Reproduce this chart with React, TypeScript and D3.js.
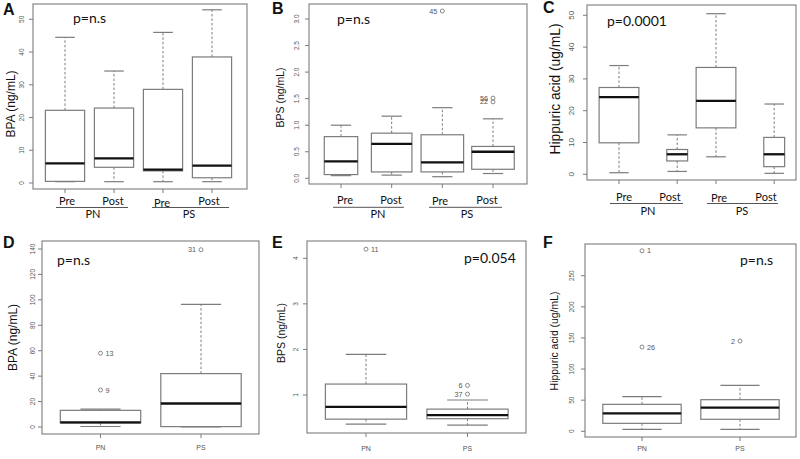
import React, { useEffect } from 'react';
import * as d3 from 'd3';

// ---------------- Data ----------------
const topGroups = ['Pre', 'Post', 'Pre', 'Post'];
const topCohorts = ['PN', 'PS'];
const bottomGroups = ['PN', 'PS'];

// A: BPA (ng/mL) pre/post
const aMin = [0.4, 0.4, 0.4, 0.4];
const aQ1 = [0.5, 4.8, 3.7, 1.6];
const aMed = [6.0, 7.5, 4.1, 5.3];
const aQ3 = [22.2, 22.9, 28.6, 38.5];
const aMax = [44.5, 34.2, 46.0, 52.9];
const aTicks = [0, 10, 20, 30, 40, 50];

// B: BPS (ng/mL) pre/post
const bMin = [0.05, 0.06, 0.03, 0.09];
const bQ1 = [0.07, 0.12, 0.12, 0.17];
const bMed = [0.32, 0.65, 0.3, 0.5];
const bQ3 = [0.785, 0.85, 0.82, 0.6];
const bMax = [1.0, 1.17, 1.33, 1.12];
const bTicks = [0, 0.5, 1, 1.5, 2, 2.5, 3];
const bOutGroup = [2, 3, 3];
const bOutValue = [3.15, 1.51, 1.44];
const bOutLabel = ['45', '56', '22'];

// C: Hippuric acid (ug/mL) pre/post
const cMin = [0.5, 0.9, 5.5, 0.3];
const cQ1 = [9.9, 4.2, 14.6, 2.4];
const cMed = [24.3, 6.3, 23.1, 6.3];
const cQ3 = [27.3, 7.8, 33.6, 11.6];
const cMax = [34.2, 12.4, 50.5, 22.1];
const cTicks = [0, 10, 20, 30, 40, 50];

// D: BPA (ng/mL) PN vs PS
const dMin = [0.4, 0];
const dQ1 = [3.2, 0.3];
const dMed = [3.6, 18.5];
const dQ3 = [13.1, 42.0];
const dMax = [14.0, 96.5];
const dTicks = [0, 20, 40, 60, 80, 100, 120, 140];
const dOutGroup = [0, 0, 1];
const dOutValue = [58.0, 29.1, 139.4];
const dOutLabel = ['13', '9', '31'];

// E: BPS (ng/mL) PN vs PS
const eMin = [0.36, 0.34];
const eQ1 = [0.47, 0.48];
const eMed = [0.74, 0.56];
const eQ3 = [1.24, 0.69];
const eMax = [1.89, 0.89];
const eTicks = [1, 2, 3, 4];
const eOutGroup = [0, 1, 1];
const eOutValue = [4.2, 1.21, 1.02];
const eOutLabel = ['11', '6', '37'];

// F: Hippuric acid (ug/mL) PN vs PS
const fMin = [3.2, 3.2];
const fQ1 = [12.8, 19.3];
const fMed = [28.9, 37.9];
const fQ3 = [43.3, 50.8];
const fMax = [55.6, 73.9];
const fTicks = [0, 50, 100, 150, 200, 250];
const fOutGroup = [0, 0, 1];
const fOutValue = [290, 135.4, 145];
const fOutLabel = ['1', '26', '2'];

// ---------------- Layout ----------------
const GRAY = '#7c7c7c';
const TXTGRAY = '#555';
const SANS = '"Liberation Sans", Arial, sans-serif';
const CAL = 'Lato, "Open Sans", sans-serif';

type Panel = {
  letter: string; letterX: number; letterY: number;
  frame: { l: number; r: number; t: number; b: number };
  at: number[]; xDom: [number, number]; xRng: [number, number];
  widths: number[]; cap: number;
  yDom: [number, number]; yRng: [number, number];
  ticks: number[]; tickFmt: (v: number) => string; tickX: number; tickFont: number;
  mins: number[]; q1: number[]; med: number[]; q3: number[]; maxs: number[];
  outG?: number[]; outV?: number[]; outL?: string[]; outSide?: number[];
  title: string; titleX: number; titleY: number; titleSize: number;
  pText: string; pX: number; pY: number;
  top?: { x: number[]; y: number[]; line: number[][]; lineY: number; cx: number[]; cy: number };
  bottomLabelY?: number;
};

const intFmt = d3.format('d');
const oneFmt = d3.format('.1f');

const panels: Panel[] = [
  {
    letter: 'A', letterX: 3, letterY: 15,
    frame: { l: 33, r: 247, t: 4, b: 189 },
    at: [1, 2, 3, 4], xDom: [1, 4], xRng: [65, 212],
    widths: [0.8, 0.8, 0.8, 0.8], cap: 0.4,
    yDom: [0, 50], yRng: [183, 19.3],
    ticks: aTicks, tickFmt: intFmt, tickX: 21.5, tickFont: 6.5,
    mins: aMin, q1: aQ1, med: aMed, q3: aQ3, maxs: aMax,
    title: 'BPA (ng/mL)', titleX: 10.5, titleY: 104, titleSize: 12,
    pText: 'p=n.s', pX: 73, pY: 23,
    top: { x: [67, 113, 162, 209], y: [205, 205, 206.5, 205], line: [[56, 128], [152, 229]], lineY: 207.5, cx: [93, 189], cy: 218 },
  },
  {
    letter: 'B', letterX: 272, letterY: 14,
    frame: { l: 309, r: 527, t: 4, b: 184 },
    at: [1, 2, 3, 4], xDom: [1, 4], xRng: [341, 493],
    widths: [0.66, 0.8, 0.84, 0.84], cap: 0.4,
    yDom: [0, 3], yRng: [178.3, 19],
    ticks: bTicks, tickFmt: oneFmt, tickX: 297, tickFont: 6.5,
    mins: bMin, q1: bQ1, med: bMed, q3: bQ3, maxs: bMax,
    outG: bOutGroup, outV: bOutValue, outL: bOutLabel, outSide: [-1, -1, -1],
    title: 'BPS (ng/mL)', titleX: 280, titleY: 97.5, titleSize: 10.5,
    pText: 'p=n.s', pX: 337, pY: 24,
    top: { x: [345, 391, 440, 487], y: [203.5, 203.5, 205, 203.5], line: [[333, 404], [429, 502]], lineY: 207.3, cx: [378, 467], cy: 218 },
  },
  {
    letter: 'C', letterX: 543, letterY: 13,
    frame: { l: 587, r: 796, t: 5, b: 180 },
    at: [1, 2.2, 3, 4.2], xDom: [1, 4.2], xRng: [619, 774.2],
    widths: [0.82, 0.43, 0.82, 0.43], cap: 0.4,
    yDom: [0, 50], yRng: [174.3, 15.3],
    ticks: cTicks, tickFmt: intFmt, tickX: 571, tickFont: 8,
    mins: cMin, q1: cQ1, med: cMed, q3: cQ3, maxs: cMax,
    title: 'Hippuric acid (ug/mL)', titleX: 555.5, titleY: 89, titleSize: 13.8,
    pText: 'p=0.0001', pX: 607, pY: 26,
    top: { x: [624, 670, 719, 766], y: [200.5, 200.5, 202, 200.5], line: [[610, 683], [707, 778]], lineY: 203.5, cx: [648, 742], cy: 215 },
  },
  {
    letter: 'D', letterX: 3, letterY: 248,
    frame: { l: 42, r: 259, t: 241, b: 434 },
    at: [1, 2], xDom: [1, 2], xRng: [100.5, 201],
    widths: [0.8, 0.8], cap: 0.4,
    yDom: [0, 140], yRng: [427, 249],
    ticks: dTicks, tickFmt: intFmt, tickX: 33, tickFont: 6.5,
    mins: dMin, q1: dQ1, med: dMed, q3: dQ3, maxs: dMax,
    outG: dOutGroup, outV: dOutValue, outL: dOutLabel, outSide: [1, 1, -1],
    title: 'BPA (ng/mL)', titleX: 13, titleY: 337.5, titleSize: 12,
    pText: 'p=n.s', pX: 57, pY: 265,
    bottomLabelY: 450,
  },
  {
    letter: 'E', letterX: 272, letterY: 248,
    frame: { l: 307, r: 526, t: 241, b: 433 },
    at: [1, 2], xDom: [1, 2], xRng: [366, 467.5],
    widths: [0.8, 0.8], cap: 0.4,
    yDom: [1, 4], yRng: [395, 258.3],
    ticks: eTicks, tickFmt: intFmt, tickX: 296, tickFont: 6.5,
    mins: eMin, q1: eQ1, med: eMed, q3: eQ3, maxs: eMax,
    outG: eOutGroup, outV: eOutValue, outL: eOutLabel, outSide: [1, -1, -1],
    title: 'BPS (ng/mL)', titleX: 281, titleY: 333, titleSize: 10.5,
    pText: 'p=0.054', pX: 464, pY: 263,
    bottomLabelY: 450.5,
  },
  {
    letter: 'F', letterX: 543, letterY: 248,
    frame: { l: 585, r: 796, t: 244, b: 437 },
    at: [1, 2], xDom: [1, 2], xRng: [642, 740],
    widths: [0.8, 0.8], cap: 0.4,
    yDom: [0, 250], yRng: [431.3, 275.7],
    ticks: fTicks, tickFmt: intFmt, tickX: 572, tickFont: 6.5,
    mins: fMin, q1: fQ1, med: fMed, q3: fQ3, maxs: fMax,
    outG: fOutGroup, outV: fOutValue, outL: fOutLabel, outSide: [1, 1, -1],
    title: 'Hippuric acid (ug/mL)', titleX: 554, titleY: 341, titleSize: 10.4,
    pText: 'p=n.s', pX: 740, pY: 265,
    bottomLabelY: 451,
  },
];

function BoxPanel({ p }: { p: Panel }) {
  const x = d3.scaleLinear().domain(p.xDom).range(p.xRng);
  const y = d3.scaleLinear().domain(p.yDom).range(p.yRng);
  const { l, r, t, b } = p.frame;
  return (
    <g>
      <text x={p.letterX} y={p.letterY} fontFamily={SANS} fontWeight="bold" fontSize={16} fill="#111">{p.letter}</text>
      <rect x={l} y={t} width={r - l} height={b - t} fill="none" stroke={GRAY} strokeWidth={1.1} />
      {p.ticks.map((v) => (
        <g key={'t' + v}>
          <line x1={l - 4} x2={l} y1={y(v)} y2={y(v)} stroke={GRAY} strokeWidth={1} />
          <text transform={`translate(${p.tickX},${y(v)}) rotate(-90)`} textAnchor="middle" dy="0.35em"
            fontFamily={SANS} fontSize={p.tickFont} fill={TXTGRAY}>{p.tickFmt(v)}</text>
        </g>
      ))}
      {p.at.map((a, i) => {
        const cx = x(a);
        const half = (x(a + p.widths[i] / 2) - x(a - p.widths[i] / 2)) / 2;
        const capHalf = (x(a + p.cap / 2) - x(a - p.cap / 2)) / 2;
        return (
          <g key={'b' + i}>
            <line x1={cx} x2={cx} y1={b} y2={b + 4} stroke={GRAY} strokeWidth={1} />
            <line x1={cx} x2={cx} y1={y(p.q3[i])} y2={y(p.maxs[i])} stroke={GRAY} strokeWidth={1} strokeDasharray="2.5,2" />
            <line x1={cx} x2={cx} y1={y(p.q1[i])} y2={y(p.mins[i])} stroke={GRAY} strokeWidth={1} strokeDasharray="2.5,2" />
            <line x1={cx - capHalf} x2={cx + capHalf} y1={y(p.maxs[i])} y2={y(p.maxs[i])} stroke={GRAY} strokeWidth={1.2} />
            <line x1={cx - capHalf} x2={cx + capHalf} y1={y(p.mins[i])} y2={y(p.mins[i])} stroke={GRAY} strokeWidth={1.2} />
            <rect x={cx - half} y={y(p.q3[i])} width={2 * half} height={y(p.q1[i]) - y(p.q3[i])}
              fill="#fff" stroke={GRAY} strokeWidth={1.2} />
            <line x1={cx - half} x2={cx + half} y1={y(p.med[i])} y2={y(p.med[i])} stroke="#111" strokeWidth={2.3} />
          </g>
        );
      })}
      {(p.outG || []).map((g, k) => {
        const cx = x(p.at[g]);
        const cy = y(p.outV![k]);
        const side = p.outSide![k];
        return (
          <g key={'o' + k}>
            <circle cx={cx} cy={cy} r={2} fill="none" stroke={GRAY} strokeWidth={0.9} />
            <text x={cx + side * 5} y={cy} dy="0.35em" textAnchor={side > 0 ? 'start' : 'end'}
              fontFamily={SANS} fontSize={7.2} fill={TXTGRAY}>{p.outL![k]}</text>
          </g>
        );
      })}
      <text transform={`translate(${p.titleX},${p.titleY}) rotate(-90)`} textAnchor="middle" dy="0.35em"
        fontFamily={SANS} fontSize={p.titleSize} fill="#111">{p.title}</text>
      <text x={p.pX} y={p.pY} fontFamily={CAL} fontSize={14} fill="#111">{p.pText}</text>
      {p.top && (
        <g>
          {topGroups.map((gname, i) => (
            <text key={'g' + i} x={p.top!.x[i]} y={p.top!.y[i]} textAnchor="middle" fontFamily={CAL} fontSize={11} fill="#111">{gname}</text>
          ))}
          {topCohorts.map((c, j) => (
            <g key={'c' + j}>
              <line x1={p.top!.line[j][0]} x2={p.top!.line[j][1]} y1={p.top!.lineY} y2={p.top!.lineY} stroke="#555" strokeWidth={1} />
              <text x={p.top!.cx[j]} y={p.top!.cy} textAnchor="middle" fontFamily={CAL} fontSize={11} fill="#111">{c}</text>
            </g>
          ))}
        </g>
      )}
      {p.bottomLabelY !== undefined && bottomGroups.map((gname, i) => (
        <text key={'x' + i} x={x(p.at[i])} y={p.bottomLabelY} textAnchor="middle" fontFamily={SANS} fontSize={7} fill={TXTGRAY}>{gname}</text>
      ))}
    </g>
  );
}

export default function App() {
  useEffect(() => {
    document.body.style.margin = '0';
  }, []);
  return (
    <svg width={800} height={459} viewBox="0 0 800 459"
      style={{ position: 'absolute', left: 0, top: 0, background: '#fff', display: 'block' }}>
      <rect x={0} y={0} width={800} height={459} fill="#fff" />
      {panels.map((p) => <BoxPanel key={p.letter} p={p} />)}
    </svg>
  );
}
